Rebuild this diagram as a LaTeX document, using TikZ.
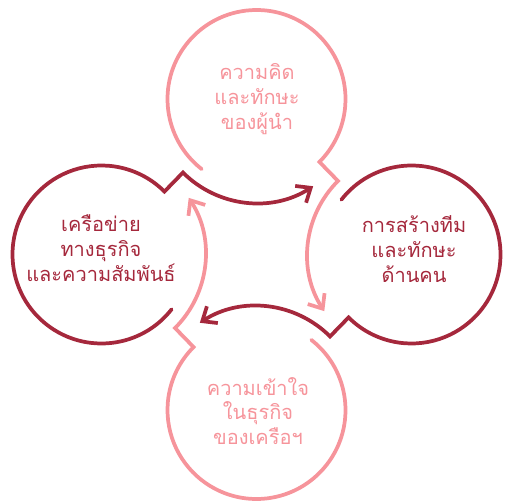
\documentclass[tikz,border=0pt]{standalone}
\usepackage{fontspec}
\newfontfamily\thaifont[Script=Thai]{Loma}
\usetikzlibrary{arrows.meta}
\definecolor{cycRed}{RGB}{165,40,60}
\definecolor{cycPink}{RGB}{246,148,155}
\tikzset{every picture/.style={line width=0.5pt},
  ring/.style={line width=2.8pt, line cap=round, line join=miter, -{Straight Barb[length=9pt, width=15pt]}},
  ringtext/.style={font=\thaifont\fontsize{15}{18.5}\selectfont, align=center, inner sep=0.75pt}}

\begin{document}
\begin{tikzpicture}[x=0.75pt,y=0.75pt,yscale=-1,xscale=1]
    \useasboundingbox (0,0) rectangle (506,502);

    %Shape: Arc left circle, arrow under top circle
    \draw [ring, color=cycRed] (171.63,309.29) arc [start angle=38, end angle=315, radius=89] -- (182.96,172.54) arc [start angle=135, end angle=57, radius=104];
    %Shape: Arc top circle, arrow beside right circle
    \draw [ring, color=cycPink] (201.71,169.13) arc [start angle=128, end angle=405, radius=89] -- (337.96,180.96) arc [start angle=225, end angle=147, radius=104];
    %Shape: Arc right circle, arrow over bottom circle
    \draw [ring, color=cycRed] (341.37,199.71) arc [start angle=218, end angle=495, radius=89] -- (330.04,336.46) arc [start angle=315, end angle=237, radius=104];
    %Shape: Arc bottom circle, arrow beside left circle
    \draw [ring, color=cycPink] (311.29,339.87) arc [start angle=308, end angle=585, radius=89] -- (175.04,328.04) arc [start angle=45, end angle=-33, radius=104];

    % Text Node
    \node [ringtext, text=cycPink] (lead) at (257,99) {ความคิด\\และทักษะ\\ของผู้นำ};
    % Text Node
    \node [ringtext, text=cycRed] (team) at (414,249) {การสร้างทีม\\และทักษะ\\ด้านคน};
    % Text Node
    \node [ringtext, text=cycPink] (biz) at (258,411) {ความเข้าใจ\\ในธุรกิจ\\ของเครือฯ};
    % Text Node
    \node [ringtext, text=cycRed] (net) at (101,248) {เครือข่าย\\ทางธุรกิจ\\และความสัมพันธ์};
\end{tikzpicture}
\end{document}
